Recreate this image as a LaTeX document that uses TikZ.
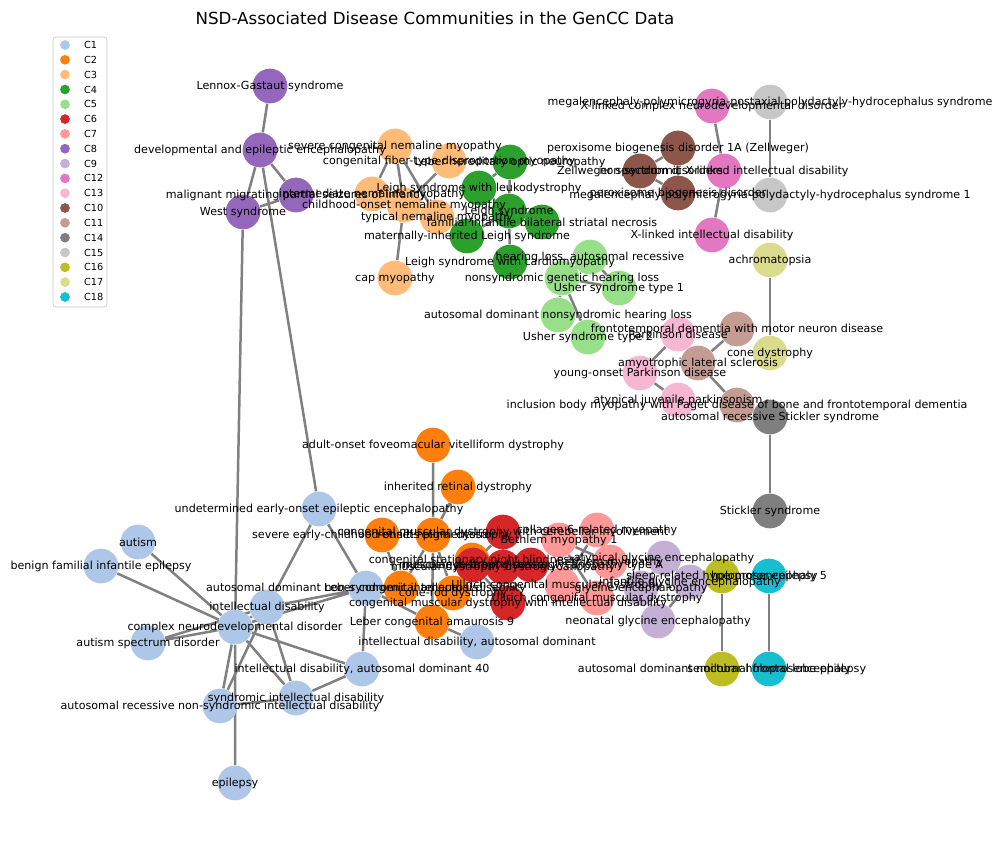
\documentclass[tikz,border=0pt]{standalone}
\usepackage{fontspec}
\setmainfont{DejaVu Sans}
\usepackage{tikz}
\usetikzlibrary{backgrounds}
\definecolor{C1col}{HTML}{AEC7E8}
\definecolor{C2col}{HTML}{FF7F0E}
\definecolor{C3col}{HTML}{FFBB78}
\definecolor{C4col}{HTML}{2CA02C}
\definecolor{C5col}{HTML}{98DF8A}
\definecolor{C6col}{HTML}{D62728}
\definecolor{C7col}{HTML}{FF9896}
\definecolor{C8col}{HTML}{9467BD}
\definecolor{C9col}{HTML}{C5B0D5}
\definecolor{C12col}{HTML}{E377C2}
\definecolor{C13col}{HTML}{F7B6D2}
\definecolor{C10col}{HTML}{8C564B}
\definecolor{C11col}{HTML}{C49C94}
\definecolor{C14col}{HTML}{7F7F7F}
\definecolor{C15col}{HTML}{C7C7C7}
\definecolor{C16col}{HTML}{BCBD22}
\definecolor{C17col}{HTML}{DBDB8D}
\definecolor{C18col}{HTML}{17BECF}
\tikzset{every picture/.style={line width=0.75pt}}
\tikzset{
  dis/.style={circle,inner sep=0pt,minimum size=25pt},
  c1/.style={dis,fill=C1col}, c2/.style={dis,fill=C2col}, c3/.style={dis,fill=C3col},
  c4/.style={dis,fill=C4col}, c5/.style={dis,fill=C5col}, c6/.style={dis,fill=C6col},
  c7/.style={dis,fill=C7col}, c8/.style={dis,fill=C8col}, c9/.style={dis,fill=C9col},
  c10/.style={dis,fill=C10col}, c11/.style={dis,fill=C11col}, c12/.style={dis,fill=C12col},
  c13/.style={dis,fill=C13col}, c14/.style={dis,fill=C14col}, c15/.style={dis,fill=C15col},
  c16/.style={dis,fill=C16col}, c17/.style={dis,fill=C17col}, c18/.style={dis,fill=C18col},
  lbl/.style={font=\fontsize{8}{9}\selectfont,inner sep=0pt,text=black},
  edge/.style={draw=gray,line width=1.8pt},
  key/.style={circle,inner sep=0pt,minimum size=7pt,
    label={[font=\fontsize{7}{8}\selectfont,inner sep=0pt,label distance=9.5pt]right:#1}}
}

\begin{document}
\begin{tikzpicture}[x=0.72pt,y=-0.72pt]
  \useasboundingbox (0,0) rectangle (1003,848);
  \node[font=\fontsize{12}{14}\selectfont] (title) at (435,18) {NSD-Associated Disease Communities in the GenCC Data};

  % C8
  \node[c8] (lgs) at (270,86) {};
  \node[c8] (dee) at (260,150) {};
  \node[c8] (mmpsi) at (296,195) {};
  \node[c8] (west) at (243,212) {};
  % C3
  \node[c3] (scnm) at (395,146) {};
  \node[c3] (cftdm) at (449,161) {};
  \node[c3] (inm) at (372,194) {};
  \node[c3] (conm) at (404,205) {};
  \node[c3] (tnm) at (437,217) {};
  \node[c3] (capm) at (395,278) {};
  % C4
  \node[c4] (lhon) at (510,162) {};
  \node[c4] (lsleuk) at (479,188) {};
  \node[c4] (leigh) at (509,211) {};
  \node[c4] (fibsn) at (542,222) {};
  \node[c4] (mils) at (467,236) {};
  \node[c4] (lscard) at (510,262) {};
  % C5
  \node[c5] (hlar) at (590,257) {};
  \node[c5] (nsghl) at (562,278) {};
  \node[c5] (ush1) at (619,288) {};
  \node[c5] (adnshl) at (558,315) {};
  \node[c5] (ush2) at (588,337) {};
  % C10
  \node[c10] (pbd1a) at (678,148) {};
  \node[c10] (zsd) at (640,171) {};
  \node[c10] (pbd) at (678,193) {};
  % C12
  \node[c12] (xlcnd) at (712,106) {};
  \node[c12] (nsxlid) at (724,171) {};
  \node[c12] (xlid) at (712,235) {};
  % C15
  \node[c15] (mppph) at (770,102) {};
  \node[c15] (mpph1) at (770,195) {};
  % C17
  \node[c17] (achro) at (770,260) {};
  \node[c17] (coned) at (770,353) {};
  % C13
  \node[c13] (pd) at (678,334) {};
  \node[c13] (yopd) at (640,373) {};
  \node[c13] (ajp) at (678,400) {};
  % C11
  \node[c11] (ftdmnd) at (737,329) {};
  \node[c11] (als) at (698,363) {};
  \node[c11] (ibmpfd) at (737,405) {};
  % C14
  \node[c14] (arss) at (770,417) {};
  \node[c14] (stick) at (770,511) {};
  % C16 and C18
  \node[c16] (srhe) at (722,576) {};
  \node[c16] (adnfle) at (722,669) {};
  \node[c18] (hpe5) at (769,576) {};
  \node[c18] (slhpe) at (769,669) {};
  % C9
  \node[c9] (age) at (664,558) {};
  \node[c9] (ige) at (690,582) {};
  \node[c9] (ge) at (641,588) {};
  \node[c9] (nge) at (658,621) {};
  % C7
  \node[c7] (bm1) at (559,540) {};
  \node[c7] (c6rm) at (597,530) {};
  \node[c7] (bm) at (610,562) {};
  \node[c7] (ucmd1) at (562,585) {};
  \node[c7] (ucmd) at (597,598) {};
  % C2
  \node[c2] (aofvd) at (433,445) {};
  \node[c2] (ird) at (458,487) {};
  \node[c2] (seord) at (382,535) {};
  \node[c2] (rp) at (433,535) {};
  \node[c2] (csnb) at (472,560) {};
  \node[c2] (lca) at (401,588) {};
  \node[c2] (crd) at (453,593) {};
  \node[c2] (lca9) at (432,622) {};
  % C6
  \node[c6] (cmdcb) at (503,532) {};
  \node[c6] (meb) at (473,565) {};
  \node[c6] (mddg) at (503,567) {};
  \node[c6] (mddga) at (531,565) {};
  \node[c6] (cmdid) at (508,603) {};
  % C1
  \node[c1] (autism) at (138,542) {};
  \node[c1] (bfie) at (101,566) {};
  \node[c1] (ueoee) at (319,509) {};
  \node[c1] (id) at (267,607) {};
  \node[c1] (cnd) at (235,627) {};
  \node[c1] (asd) at (148,643) {};
  \node[c1] (adnsid) at (366,588) {};
  \node[c1] (idad) at (477,642) {};
  \node[c1] (idad40) at (362,669) {};
  \node[c1] (sid) at (296,698) {};
  \node[c1] (arnsid) at (220,706) {};
  \node[c1] (epi) at (235,783) {};

  % edges under the discs
  \begin{scope}[on background layer]
    \draw[edge] (lgs) -- (dee) (dee) -- (west) (dee) -- (mmpsi) (west) -- (mmpsi);
    \draw[edge] (dee) -- (ueoee) (west) -- (cnd);
    \draw[edge] (scnm) -- (inm) (scnm) -- (conm) (scnm) -- (tnm) (cftdm) -- (conm) (conm) -- (capm);
    \draw[edge] (lhon) -- (lsleuk) (lhon) -- (leigh) (leigh) -- (lscard) (leigh) -- (lsleuk) (leigh) -- (fibsn) (leigh) -- (mils);
    \draw[edge] (hlar) -- (nsghl) (hlar) -- (ush1) (nsghl) -- (ush1) (nsghl) -- (adnshl) (nsghl) -- (ush2);
    \draw[edge] (pbd1a) -- (zsd) (zsd) -- (pbd) (pbd1a) -- (pbd);
    \draw[edge] (xlcnd) -- (nsxlid) (nsxlid) -- (xlid);
    \draw[edge] (mppph) -- (mpph1) (achro) -- (coned) (arss) -- (stick);
    \draw[edge] (srhe) -- (adnfle) (hpe5) -- (slhpe);
    \draw[edge] (pd) -- (yopd) (yopd) -- (ajp) (ftdmnd) -- (als) (als) -- (ibmpfd);
    \draw[edge] (age) -- (ge) (ge) -- (nge) (ige) -- (nge) (age) -- (ige);
    \draw[edge] (bm1) -- (bm) (c6rm) -- (ucmd1) (bm1) -- (ucmd) (c6rm) -- (bm) (ucmd1) -- (ucmd);
    \draw[edge] (cmdcb) -- (meb) (cmdcb) -- (mddg) (meb) -- (cmdid) (mddg) -- (mddga);
    \draw[edge] (aofvd) -- (rp) (ird) -- (rp) (seord) -- (lca) (rp) -- (lca) (rp) -- (crd) (rp) -- (lca9);
    \draw[edge] (autism) -- (cnd) (bfie) -- (cnd) (cnd) -- (asd) (id) -- (asd) (cnd) -- (id);
    \draw[edge] (ueoee) -- (id) (ueoee) -- (adnsid) (cnd) -- (epi) (cnd) -- (idad40) (cnd) -- (sid);
    \draw[edge] (cnd) -- (arnsid) (id) -- (sid) (id) -- (arnsid) (arnsid) -- (sid) (sid) -- (idad40);
    \draw[edge] (id) -- (adnsid) (cnd) -- (adnsid) (adnsid) -- (idad40) (adnsid) -- (lca9) (lca9) -- (idad);
  \end{scope}

  % labels on top
  \path (lgs) node[lbl] {Lennox-Gastaut syndrome};
  \path (dee) node[lbl] {developmental and epileptic encephalopathy};
  \path (mmpsi) node[lbl] {malignant migrating partial seizures of infancy};
  \path (west) node[lbl] {West syndrome};
  \path (scnm) node[lbl] {severe congenital nemaline myopathy};
  \path (cftdm) node[lbl] {congenital fiber-type disproportion myopathy};
  \path (inm) node[lbl] {intermediate nemaline myopathy};
  \path (conm) node[lbl] {childhood-onset nemaline myopathy};
  \path (tnm) node[lbl] {typical nemaline myopathy};
  \path (capm) node[lbl] {cap myopathy};
  \path (lhon) node[lbl] {Leber hereditary optic neuropathy};
  \path (lsleuk) node[lbl] {Leigh syndrome with leukodystrophy};
  \path (leigh) node[lbl] {Leigh syndrome};
  \path (fibsn) node[lbl] {familial infantile bilateral striatal necrosis};
  \path (mils) node[lbl] {maternally-inherited Leigh syndrome};
  \path (lscard) node[lbl] {Leigh syndrome with cardiomyopathy};
  \path (hlar) node[lbl] {hearing loss, autosomal recessive};
  \path (nsghl) node[lbl] {nonsyndromic genetic hearing loss};
  \path (ush1) node[lbl] {Usher syndrome type 1};
  \path (adnshl) node[lbl] {autosomal dominant nonsyndromic hearing loss};
  \path (ush2) node[lbl] {Usher syndrome type 2};
  \path (pbd1a) node[lbl] {peroxisome biogenesis disorder 1A (Zellweger)};
  \path (zsd) node[lbl] {Zellweger spectrum disorders};
  \path (pbd) node[lbl] {peroxisome biogenesis disorder};
  \path (xlcnd) node[lbl] {X-linked complex neurodevelopmental disorder};
  \path (nsxlid) node[lbl] {non-syndromic X-linked intellectual disability};
  \path (xlid) node[lbl] {X-linked intellectual disability};
  \path (mppph) node[lbl] {megalencephaly-polymicrogyria-postaxial polydactyly-hydrocephalus syndrome};
  \path (mpph1) node[lbl] {megalencephaly-polymicrogyria-polydactyly-hydrocephalus syndrome 1};
  \path (achro) node[lbl] {achromatopsia};
  \path (coned) node[lbl] {cone dystrophy};
  \path (pd) node[lbl] {Parkinson disease};
  \path (yopd) node[lbl] {young-onset Parkinson disease};
  \path (ajp) node[lbl] {atypical juvenile parkinsonism};
  \path (ftdmnd) node[lbl] {frontotemporal dementia with motor neuron disease};
  \path (als) node[lbl] {amyotrophic lateral sclerosis};
  \path (ibmpfd) node[lbl] {inclusion body myopathy with Paget disease of bone and frontotemporal dementia};
  \path (arss) node[lbl] {autosomal recessive Stickler syndrome};
  \path (stick) node[lbl] {Stickler syndrome};
  \path (srhe) node[lbl] {sleep-related hypermotor epilepsy};
  \path (adnfle) node[lbl] {autosomal dominant nocturnal frontal lobe epilepsy};
  \path (hpe5) node[lbl] {holoprosencephaly 5};
  \path (slhpe) node[lbl] {semilobar holoprosencephaly};
  \path (age) node[lbl] {atypical glycine encephalopathy};
  \path (ige) node[lbl] {infantile glycine encephalopathy};
  \path (ge) node[lbl] {glycine encephalopathy};
  \path (nge) node[lbl] {neonatal glycine encephalopathy};
  \path (bm1) node[lbl] {Bethlem myopathy 1};
  \path (c6rm) node[lbl] {collagen 6-related myopathy};
  \path (bm) node[lbl] {Bethlem myopathy};
  \path (ucmd1) node[lbl] {Ullrich congenital muscular dystrophy 1};
  \path (ucmd) node[lbl] {Ullrich congenital muscular dystrophy};
  \path (aofvd) node[lbl] {adult-onset foveomacular vitelliform dystrophy};
  \path (ird) node[lbl] {inherited retinal dystrophy};
  \path (seord) node[lbl] {severe early-childhood-onset retinal dystrophy};
  \path (rp) node[lbl] {retinitis pigmentosa};
  \path (csnb) node[lbl] {congenital stationary night blindness};
  \path (lca) node[lbl] {Leber congenital amaurosis};
  \path (crd) node[lbl] {cone-rod dystrophy};
  \path (lca9) node[lbl] {Leber congenital amaurosis 9};
  \path (cmdcb) node[lbl] {congenital muscular dystrophy with cerebellar involvement};
  \path (meb) node[lbl] {muscle-eye-brain disease};
  \path (mddg) node[lbl] {muscular dystrophy-dystroglycanopathy};
  \path (mddga) node[lbl] {muscular dystrophy-dystroglycanopathy type A};
  \path (cmdid) node[lbl] {congenital muscular dystrophy with intellectual disability};
  \path (autism) node[lbl] {autism};
  \path (bfie) node[lbl] {benign familial infantile epilepsy};
  \path (ueoee) node[lbl] {undetermined early-onset epileptic encephalopathy};
  \path (id) node[lbl] {intellectual disability};
  \path (cnd) node[lbl] {complex neurodevelopmental disorder};
  \path (asd) node[lbl] {autism spectrum disorder};
  \path (adnsid) node[lbl] {autosomal dominant non-syndromic intellectual disability};
  \path (idad) node[lbl] {intellectual disability, autosomal dominant};
  \path (idad40) node[lbl] {intellectual disability, autosomal dominant 40};
  \path (sid) node[lbl] {syndromic intellectual disability};
  \path (arnsid) node[lbl] {autosomal recessive non-syndromic intellectual disability};
  \path (epi) node[lbl] {epilepsy};

  % legend
  \draw[black!20,line width=0.6pt,fill=white,rounded corners=2pt] (53,37) rectangle (107,307);
  \node[key=C1,fill=C1col] (k1) at (65,45) {};
  \node[key=C2,fill=C2col] (k2) at (65,59.8) {};
  \node[key=C3,fill=C3col] (k3) at (65,74.6) {};
  \node[key=C4,fill=C4col] (k4) at (65,89.5) {};
  \node[key=C5,fill=C5col] (k5) at (65,104.3) {};
  \node[key=C6,fill=C6col] (k6) at (65,119.1) {};
  \node[key=C7,fill=C7col] (k7) at (65,133.9) {};
  \node[key=C8,fill=C8col] (k8) at (65,148.7) {};
  \node[key=C9,fill=C9col] (k9) at (65,163.6) {};
  \node[key=C12,fill=C12col] (k12) at (65,178.4) {};
  \node[key=C13,fill=C13col] (k13) at (65,193.2) {};
  \node[key=C10,fill=C10col] (k10) at (65,208) {};
  \node[key=C11,fill=C11col] (k11) at (65,222.8) {};
  \node[key=C14,fill=C14col] (k14) at (65,237.7) {};
  \node[key=C15,fill=C15col] (k15) at (65,252.5) {};
  \node[key=C16,fill=C16col] (k16) at (65,267.3) {};
  \node[key=C17,fill=C17col] (k17) at (65,282.1) {};
  \node[key=C18,fill=C18col] (k18) at (65,297) {};
\end{tikzpicture}
\end{document}
